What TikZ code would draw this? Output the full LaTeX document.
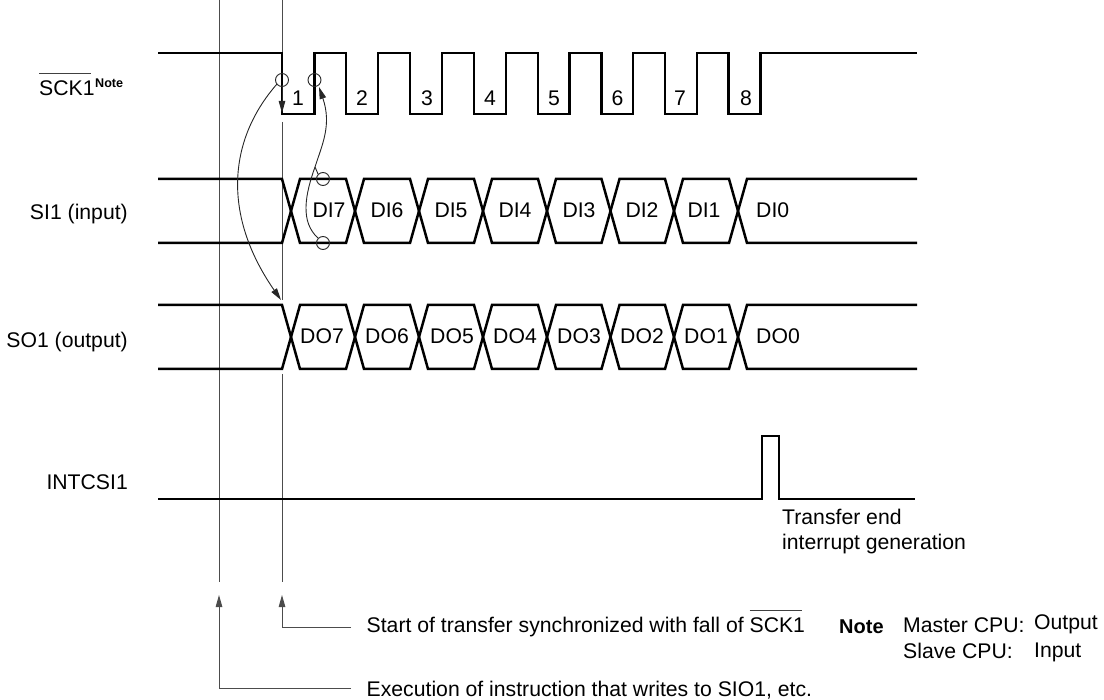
\documentclass[tikz,border=0pt]{standalone}
\usepackage{fontspec}
\setmainfont{Liberation Sans}
\usetikzlibrary{arrows.meta}
\tikzset{
  wave/.style={line width=2.5pt,line join=miter,line cap=butt,black},
  thin line/.style={line width=1pt,black!70},
  curve/.style={line width=0.9pt,black!85},
  tip/.style={-{Stealth[inset=0pt,length=12pt,width=6.5pt]}},
  ring/.style={circle,draw=black!85,line width=0.9pt,minimum size=13pt,inner sep=0pt},
  lab/.style={inner sep=0pt,font=\fontsize{21.2}{25}\selectfont},
  sig/.style={lab,anchor=base east},
  txt/.style={lab,anchor=base west},
  mid/.style={lab,anchor=base}
}
\newcommand{\sckbar}{\leavevmode\rlap{\textcolor{black!75}{\rule[21.5pt]{52pt}{1pt}}}SCK1}
\begin{document}
\begin{tikzpicture}[x=1pt,y=-1pt]
\useasboundingbox (0,0) rectangle (1104,700);
% guide lines
\coordinate (g1top) at (219,0); \coordinate (g1bot) at (219,582);
\coordinate (g2top) at (282,0); \coordinate (g2a) at (282,53);
\coordinate (g2b) at (282,122); \coordinate (g2c) at (282,300);
\coordinate (g2d) at (282,374); \coordinate (g2bot) at (282,582);
\draw[thin line] (g1top) -- (g1bot);
\draw[thin line] (g2top) -- (g2a);
\draw[thin line] (g2b) -- (g2c);
\draw[thin line] (g2d) -- (g2bot);
% SCK
\draw[wave] (158,53) -- (282,53) |- (314.5,114) |- (346,53) |- (378,114) |- (410,53)
  |- (442,114) |- (474,53) |- (506,114) |- (538,53) |- (569.5,114) |- (601.5,53)
  |- (633,114) |- (665,53) |- (697,114) |- (728.5,53) |- (760.5,114) |- (917,53);
% SI and SO
\foreach \t/\b in {179/243,305/369}{
  \draw[wave] (158,\t) -- (282,\t) -- (300,\b) -- (346,\b) -- (364,\t) -- (410,\t) -- (428,\b)
    -- (474,\b) -- (492,\t) -- (538,\t) -- (556,\b) -- (601.5,\b) -- (619.5,\t) -- (665,\t)
    -- (683,\b) -- (729,\b) -- (747,\t) -- (917,\t);
  \draw[wave] (158,\b) -- (282,\b) -- (300,\t) -- (346,\t) -- (364,\b) -- (410,\b) -- (428,\t)
    -- (474,\t) -- (492,\b) -- (538,\b) -- (556,\t) -- (601.5,\t) -- (619.5,\b) -- (665,\b)
    -- (683,\t) -- (729,\t) -- (747,\b) -- (917,\b);
}
% INT
\draw[wave] (158,499) -- (762,499) -- (762,436) -- (779,436) -- (779,499) -- (915,499);
% rings
\node[ring] (r1) at (282,80) {};
\node[ring] (r2) at (314.5,80) {};
\node[ring] (r3) at (323,179) {};
\node[ring] (r4) at (323,243) {};
% arrows
\coordinate (fall) at (282,113);
\coordinate (fallstart) at (282,85);
\draw[curve,tip] (fallstart) -- (fall);
\coordinate (sotip) at (281,300);
\draw[curve,tip] (r1) ++(-5,4) .. controls (228,140) and (222,215) .. (sotip);
\coordinate (sitip) at (319,87);
\coordinate (sijoin) at (315,167);
\draw[curve] (r4.north west) .. controls (300,222) and (305,195) .. (sijoin);
\draw[curve] (sijoin) -- (r3.north west);
\draw[curve,tip] (sijoin) .. controls (322,145) and (332,125) .. (sitip);
% bottom arrows
\coordinate (a1) at (219,595); \coordinate (a1e) at (351,688);
\coordinate (a2) at (282,595); \coordinate (a2e) at (351,627);
\draw[thin line,tip] (a1e) -| (a1);
\draw[thin line,tip] (a2e) -| (a2);
% pulse numbers
\foreach \n/\x in {1/298,2/362,3/427,4/490,5/554,6/617.5,7/680,8/746}
  \node[mid] (p\n) at (\x,106) {\n};
% data labels
\foreach \n/\x in {7/329,6/387,5/451,4/515,3/579,2/642,1/704}
  \node[mid] (di\n) at (\x,218) {DI\n};
\node[txt] (di0) at (756,218) {DI0};
\foreach \n/\x/\d in {7/322/7,6/387/6,5/452/5,4/515/4,3/579/3,2/642/2,1/706/1}
  \node[mid] (do\n) at (\x,344) {DO\d};
\node[txt] (do0) at (756,344) {DO0};
% signal names
\node[sig] (n1) at (128,220) {SI1 (input)};
\node[sig] (n2) at (128,348) {SO1 (output)};
\node[sig] (n3) at (128,490) {INTCSI1};
\node[txt] (n4) at (39,96) {\sckbar};
\node[inner sep=0pt,anchor=base west,font=\fontsize{12.6}{15}\selectfont\bfseries] (n5) at (95,88) {Note};
% notes
\node[txt] (t1) at (782,525) {Transfer end};
\node[txt] (t2) at (782,550) {interrupt generation};
\node[txt] (t3) at (366.5,632) {Start of transfer synchronized with fall of \sckbar};
\node[txt] (t4) at (366.5,696) {Execution of instruction that writes to SIO1, etc.};
\node[txt,font=\fontsize{20}{24}\selectfont\bfseries] (t5) at (839,633) {Note};
\node[txt] (t6) at (903,632) {Master CPU:};
\node[txt] (t7) at (903,658) {Slave CPU:};
\node[txt] (t8) at (1034,629) {Output};
\node[txt] (t9) at (1034,657) {Input};
\end{tikzpicture}
\end{document}
